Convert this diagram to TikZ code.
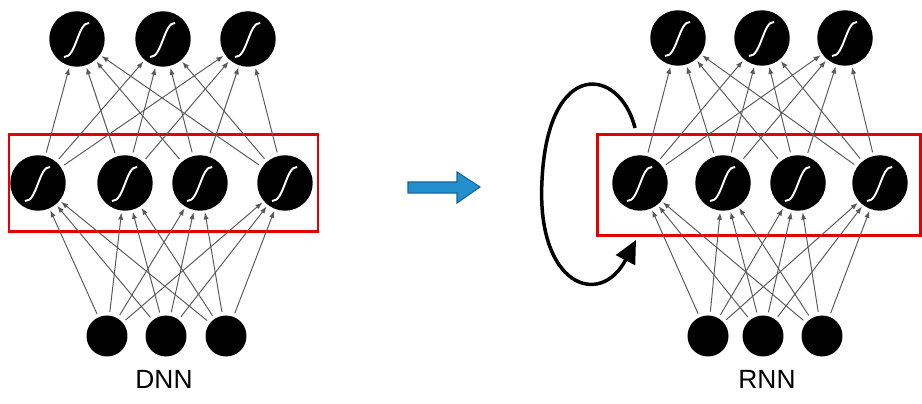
\documentclass[tikz,border=0pt]{standalone}
\usepackage{fontspec}
\setmainfont{Liberation Sans}
\usetikzlibrary{arrows.meta}

\tikzset{
  sig/.style={circle, fill=black, inner sep=0pt, minimum size=1.11cm,
    path picture={\draw[white, line width=1.1pt, shift={(path picture bounding box.center)}]
      (-13,-18) .. controls (-1,-19) and (1,17) .. (12,16);}},
  inp/.style={circle, fill=black, inner sep=0pt, minimum size=0.82cm},
  edge/.style={draw=black!65, line width=0.55pt, shorten <=2pt, shorten >=1pt,
    -{Latex[length=4pt, width=3pt]}},
  layerbox/.style={draw=red!90!black, line width=1.7pt},
  lbl/.style={font=\fontsize{15pt}{18pt}\selectfont}
}

\begin{document}
\begin{tikzpicture}[x=0.02cm, y=0.02cm]
	\useasboundingbox (0,0) rectangle (922,404);

	% DNN
	\draw[layerbox] (9,172) rectangle (318,269);
	\foreach \x [count=\i] in {77,163,248}
		\node[sig] (dOut\i) at (\x,365) {};
	\foreach \x [count=\i] in {38,125,200,285}
		\node[sig] (dHid\i) at (\x,221) {};
	\foreach \x [count=\i] in {107,166,226}
		\node[inp] (dIn\i) at (\x,68) {};
	\foreach \i in {1,2,3}
		\foreach \j in {1,...,4}
			\draw[edge] (dIn\i) -- (dHid\j);
	\foreach \j in {1,...,4}
		\foreach \k in {1,2,3}
			\draw[edge] (dHid\j) -- (dOut\k);
	\node[lbl] (dnn) at (164,25) {DNN};

	% Pfeil dazwischen
	\filldraw[fill={rgb,255:red,35;green,143;blue,205}, draw={rgb,255:red,20;green,100;blue,160}, line width=0.6pt]
		(408,211) -- (457,211) -- (457,201) -- (480,217) -- (457,232) -- (457,222) -- (408,222) -- cycle;

	% RNN
	\draw[layerbox] (597,168) rectangle (920,269);
	\foreach \x [count=\i] in {678,762,845}
		\node[sig] (rOut\i) at (\x,366) {};
	\foreach \x [count=\i] in {640,723,798,880}
		\node[sig] (rHid\i) at (\x,221) {};
	\foreach \x [count=\i] in {708,763,822}
		\node[inp] (rIn\i) at (\x,68) {};
	\foreach \i in {1,2,3}
		\foreach \j in {1,...,4}
			\draw[edge] (rIn\i) -- (rHid\j);
	\foreach \j in {1,...,4}
		\foreach \k in {1,2,3}
			\draw[edge] (rHid\j) -- (rOut\k);
	\node[lbl] (rnn) at (767,25) {RNN};

	% Rueckkopplung
	\coordinate (loopStart) at (635,276);
	\coordinate (loopEnd) at (636,164);
	\draw[line width=2pt, -{Triangle[length=13pt, width=12pt]}]
		(loopStart) .. controls (620,337) and (548,347) .. (542,224)
		.. controls (536,118) and (600,95) .. (loopEnd);

	%\draw[help lines, step=50] (0,0) grid (922,404);
\end{tikzpicture}
\end{document}
